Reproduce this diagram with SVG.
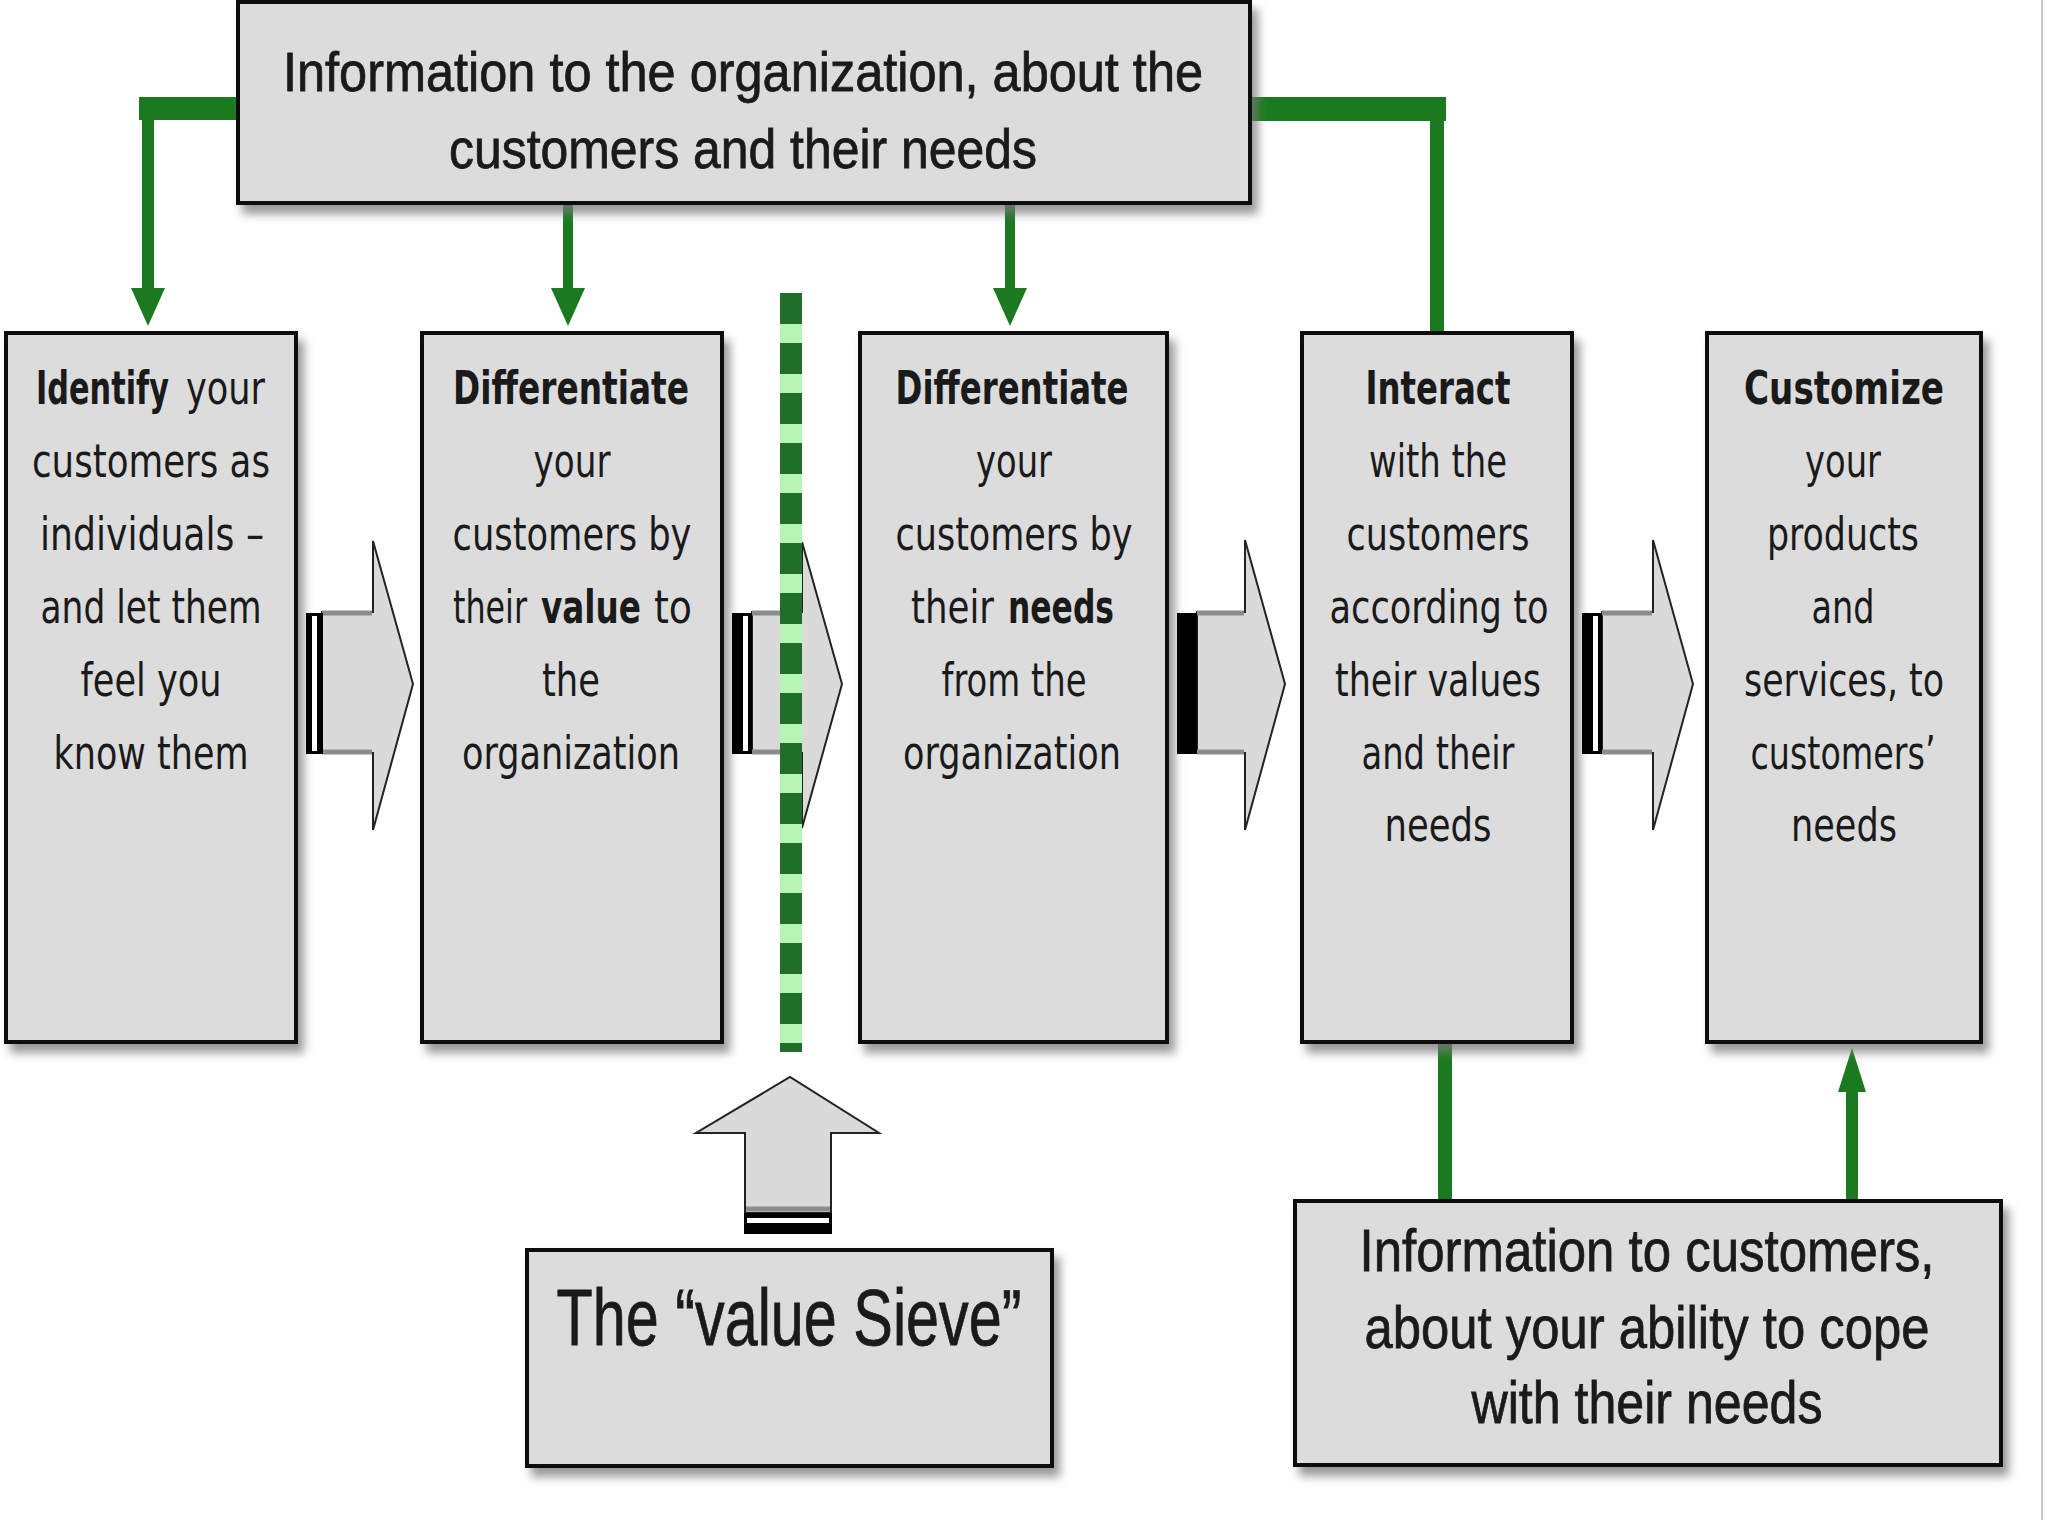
<svg xmlns="http://www.w3.org/2000/svg" width="2048" height="1536" viewBox="0 0 2048 1536">
<defs>
<filter id="sh" x="-10%" y="-10%" width="130%" height="130%">
<feDropShadow dx="6" dy="9" stdDeviation="5" flood-color="#777" flood-opacity="0.75"/>
</filter>
<style>
.box{fill:#dcdcdd;stroke:#111;stroke-width:4}
.t{font-family:"DejaVu Sans Condensed","DejaVu Sans",sans-serif;font-stretch:condensed;font-size:46px;fill:#1a1a1a;text-anchor:middle}
.s{text-anchor:start}
.b{font-weight:bold}
.n{font-family:"Liberation Sans Narrow","Liberation Sans",sans-serif;fill:#1a1a1a;stroke:#1a1a1a;stroke-width:0.8;text-anchor:middle}
.g{fill:#1b7a1f}
.arr{fill:#dadada;stroke:#222;stroke-width:2;stroke-linejoin:miter}
.edge{stroke:#8c8c8c;stroke-width:5}
.blk{fill:#000}
.wht{fill:#fff}
</style>
</defs>
<rect width="2048" height="1536" fill="#fff"/>
<line x1="2042" y1="0" x2="2042" y2="1520" stroke="#c8c8c8" stroke-width="2"/>

<g id="connectors">
<rect class="g" x="139" y="97" width="101" height="23"/>
<rect class="g" x="142" y="97" width="12" height="196"/>
<polygon class="g" points="131,288 165,288 148,326"/>
<rect class="g" x="563" y="200" width="10" height="93"/>
<polygon class="g" points="551,288 585,288 568,326"/>
<rect class="g" x="1005" y="200" width="10" height="93"/>
<polygon class="g" points="993,288 1027,288 1010,326"/>
<rect class="g" x="1248" y="97" width="198" height="24"/>
<rect class="g" x="1430" y="97" width="14" height="238"/>
<rect class="g" x="1438" y="1040" width="14" height="163"/>
<rect class="g" x="1846" y="1085" width="12" height="118"/>
<polygon class="g" points="1838,1092 1866,1092 1852,1048"/>
</g>

<g id="top-box">
<rect class="box" x="238" y="2" width="1012" height="201" filter="url(#sh)"/>
<text class="n" x="743" y="91" font-size="56" textLength="920" lengthAdjust="spacingAndGlyphs">Information to the organization, about the</text>
<text class="n" x="743" y="168" font-size="56" textLength="588" lengthAdjust="spacingAndGlyphs">customers and their needs</text>
</g>

<g id="box1">
<rect class="box" x="6" y="333" width="290" height="709" filter="url(#sh)"/>
<text class="t s b" x="36" y="404" textLength="133" lengthAdjust="spacingAndGlyphs">Identify</text>
<text class="t s" x="186" y="404" textLength="79" lengthAdjust="spacingAndGlyphs">your</text>
<text class="t" x="151" y="477" textLength="238" lengthAdjust="spacingAndGlyphs">customers as</text>
<text class="t" x="152" y="550" textLength="224" lengthAdjust="spacingAndGlyphs">individuals –</text>
<text class="t" x="151" y="623" textLength="221" lengthAdjust="spacingAndGlyphs">and let them</text>
<text class="t" x="151" y="696" textLength="141" lengthAdjust="spacingAndGlyphs">feel you</text>
<text class="t" x="151" y="769" textLength="195" lengthAdjust="spacingAndGlyphs">know them</text>
</g>

<g id="box2">
<rect class="box" x="422" y="333" width="300" height="709" filter="url(#sh)"/>
<text class="t b" x="571" y="404" textLength="236" lengthAdjust="spacingAndGlyphs">Differentiate</text>
<text class="t" x="572" y="477" textLength="77" lengthAdjust="spacingAndGlyphs">your</text>
<text class="t" x="572" y="550" textLength="239" lengthAdjust="spacingAndGlyphs">customers by</text>
<text class="t s" x="453" y="623" textLength="74" lengthAdjust="spacingAndGlyphs">their</text>
<text class="t s b" x="541" y="623" textLength="100" lengthAdjust="spacingAndGlyphs">value</text>
<text class="t s" x="654" y="623" textLength="38" lengthAdjust="spacingAndGlyphs">to</text>
<text class="t" x="571" y="696" textLength="58" lengthAdjust="spacingAndGlyphs">the</text>
<text class="t" x="571" y="769" textLength="218" lengthAdjust="spacingAndGlyphs">organization</text>
</g>

<g id="box3">
<rect class="box" x="860" y="333" width="307" height="709" filter="url(#sh)"/>
<text class="t b" x="1012" y="404" textLength="233" lengthAdjust="spacingAndGlyphs">Differentiate</text>
<text class="t" x="1014" y="477" textLength="76" lengthAdjust="spacingAndGlyphs">your</text>
<text class="t" x="1014" y="550" textLength="237" lengthAdjust="spacingAndGlyphs">customers by</text>
<text class="t s" x="911" y="623" textLength="83" lengthAdjust="spacingAndGlyphs">their</text>
<text class="t s b" x="1008" y="623" textLength="106" lengthAdjust="spacingAndGlyphs">needs</text>
<text class="t" x="1014" y="696" textLength="145" lengthAdjust="spacingAndGlyphs">from the</text>
<text class="t" x="1012" y="769" textLength="218" lengthAdjust="spacingAndGlyphs">organization</text>
</g>

<g id="box4">
<rect class="box" x="1302" y="333" width="270" height="709" filter="url(#sh)"/>
<text class="t b" x="1438" y="404" textLength="145" lengthAdjust="spacingAndGlyphs">Interact</text>
<text class="t" x="1438" y="477" textLength="138" lengthAdjust="spacingAndGlyphs">with the</text>
<text class="t" x="1438" y="550" textLength="183" lengthAdjust="spacingAndGlyphs">customers</text>
<text class="t" x="1439" y="623" textLength="219" lengthAdjust="spacingAndGlyphs">according to</text>
<text class="t" x="1438" y="696" textLength="206" lengthAdjust="spacingAndGlyphs">their values</text>
<text class="t" x="1438" y="769" textLength="153" lengthAdjust="spacingAndGlyphs">and their</text>
<text class="t" x="1438" y="841" textLength="107" lengthAdjust="spacingAndGlyphs">needs</text>
</g>

<g id="box5">
<rect class="box" x="1707" y="333" width="274" height="709" filter="url(#sh)"/>
<text class="t b" x="1844" y="404" textLength="200" lengthAdjust="spacingAndGlyphs">Customize</text>
<text class="t" x="1843" y="477" textLength="76" lengthAdjust="spacingAndGlyphs">your</text>
<text class="t" x="1843" y="550" textLength="152" lengthAdjust="spacingAndGlyphs">products</text>
<text class="t" x="1843" y="623" textLength="63" lengthAdjust="spacingAndGlyphs">and</text>
<text class="t" x="1844" y="696" textLength="200" lengthAdjust="spacingAndGlyphs">services, to</text>
<text class="t" x="1843" y="769" textLength="185" lengthAdjust="spacingAndGlyphs">customers’</text>
<text class="t" x="1844" y="841" textLength="106" lengthAdjust="spacingAndGlyphs">needs</text>
</g>

<g id="arrow1">
<polygon class="arr" points="322,612 373,612 373,541 413,684 373,830 373,753 322,753"/>
<line class="edge" x1="322" y1="613" x2="372" y2="613"/>
<line class="edge" x1="322" y1="752" x2="372" y2="752"/>
<rect class="blk" x="306" y="613" width="17" height="141"/>
<rect class="wht" x="312" y="616" width="5" height="135"/>
</g>
<g id="arrow2">
<polygon class="arr" points="752,612 802,612 802,542 842,684 802,828 802,753 752,753"/>
<line class="edge" x1="752" y1="613" x2="801" y2="613"/>
<line class="edge" x1="752" y1="752" x2="801" y2="752"/>
<rect class="blk" x="732" y="613" width="20" height="141"/>
<rect class="wht" x="743" y="616" width="5" height="135"/>
</g>
<g id="arrow3">
<polygon class="arr" points="1197,612 1245,612 1245,540 1285,684 1245,830 1245,753 1197,753"/>
<line class="edge" x1="1197" y1="613" x2="1244" y2="613"/>
<line class="edge" x1="1197" y1="752" x2="1244" y2="752"/>
<rect class="blk" x="1177" y="613" width="20" height="141"/>
</g>
<g id="arrow4">
<polygon class="arr" points="1602,612 1653,612 1653,540 1693,684 1653,830 1653,753 1602,753"/>
<line class="edge" x1="1602" y1="613" x2="1652" y2="613"/>
<line class="edge" x1="1602" y1="752" x2="1652" y2="752"/>
<rect class="blk" x="1582" y="613" width="20" height="141"/>
<rect class="wht" x="1593" y="616" width="5" height="135"/>
</g>

<g id="sieve-line">
<line x1="791" y1="293" x2="791" y2="1052" stroke="#b6f5b6" stroke-width="22"/>
<line x1="791" y1="293" x2="791" y2="1052" stroke="#1f6e2a" stroke-width="22" stroke-dasharray="31 19"/>
</g>

<g id="up-arrow">
<polygon class="arr" points="745,1213 745,1133 696,1133 790,1077 879,1133 831,1133 831,1213"/>
<line class="edge" x1="746" y1="1209" x2="830" y2="1209"/>
<rect class="blk" x="744" y="1213" width="88" height="21"/>
<rect class="wht" x="747" y="1218" width="82" height="5"/>
</g>

<g id="value-sieve">
<rect class="box" x="527" y="1250" width="525" height="216" filter="url(#sh)"/>
<text class="n" x="789" y="1345" font-size="80" textLength="465" lengthAdjust="spacingAndGlyphs">The “value Sieve”</text>
</g>

<g id="info-customers">
<rect class="box" x="1295" y="1201" width="706" height="264" filter="url(#sh)"/>
<text class="n" x="1647" y="1271" font-size="60" textLength="575" lengthAdjust="spacingAndGlyphs">Information to customers,</text>
<text class="n" x="1647" y="1348" font-size="60" textLength="565" lengthAdjust="spacingAndGlyphs">about your ability to cope</text>
<text class="n" x="1647" y="1423" font-size="60" textLength="351" lengthAdjust="spacingAndGlyphs">with their needs</text>
</g>
</svg>
